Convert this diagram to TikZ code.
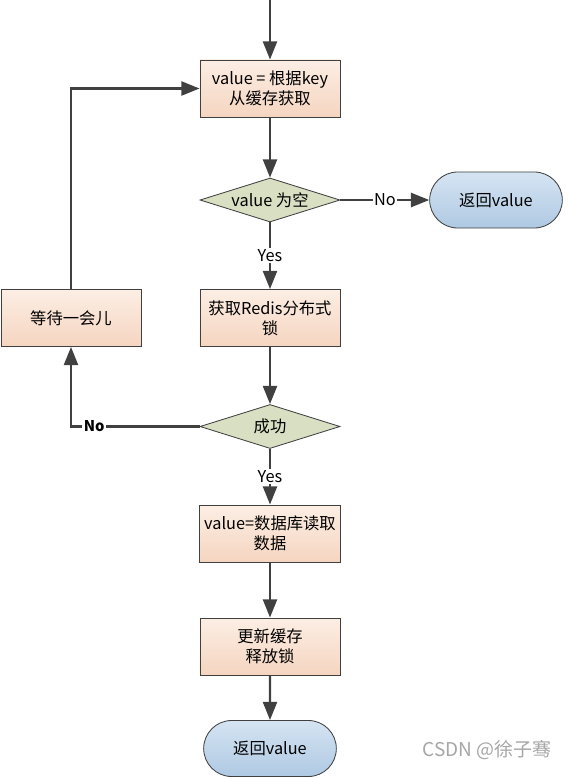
\documentclass[tikz,border=0pt]{standalone}
\usepackage{fontspec}
\newfontfamily\cjk{Noto Sans CJK SC}
\usepackage{tikz}
\usetikzlibrary{shapes.geometric, arrows.meta, positioning, shapes.misc}
\definecolor{linegray}{HTML}{404040}
\definecolor{peachtop}{HTML}{FCEEE4}
\definecolor{peachbot}{HTML}{F5D5C0}
\definecolor{sagefill}{HTML}{D8DFC3}
\definecolor{bluetop}{HTML}{D5E4F2}
\definecolor{bluebot}{HTML}{AFC9E3}
\tikzset{
    procbox/.style={
        rectangle,
        draw=linegray,
        semithick,
        minimum width=3.5cm,
        minimum height=1.425cm,
        top color=peachtop,
        bottom color=peachbot,
        align=center,
        font=\cjk\fontsize{11.6}{14.5}\selectfont
    },
    decision/.style={
        diamond,
        draw=linegray,
        semithick,
        aspect=3.2,
        inner sep=0pt,
        minimum width=3.5cm,
        minimum height=1.1cm,
        fill=sagefill,
        font=\cjk\fontsize{11.6}{14.5}\selectfont
    },
    terminal/.style={
        rounded rectangle,
        draw=linegray,
        semithick,
        minimum width=3.55cm,
        minimum height=1.4cm,
        top color=bluetop,
        bottom color=bluebot,
        font=\cjk\fontsize{11.6}{14.5}\selectfont
    },
    flow/.style={
        draw=linegray,
        line width=1.7pt,
        -{Triangle[length=13pt,width=10pt]}
    },
    flowlabel/.style={
        fill=white,
        inner sep=1pt,
        text=black,
        font=\cjk\fontsize{11.6}{14.5}\selectfont
    }
}

\begin{document}
\begin{tikzpicture}[x=0.025cm, y=-0.025cm]

\useasboundingbox (0,0) rectangle (568,778);

\coordinate (start) at (270,0);
\node[procbox] (getval) at (270,88.5) {value = 根据key\\从缓存获取};
\node[decision] (isnull) at (270,200) {value 为空};
\node[terminal] (ret1) at (496,200) {返回value};
\node[procbox] (lock) at (270,318) {获取Redis分布式\\锁};
\node[procbox] (wait) at (71,318) {等待一会儿};
\node[decision] (ok) at (270,426.5) {成功};
\node[procbox] (readdb) at (270,533.5) {value=数据库读取\\数据};
\node[procbox] (update) at (270,646.5) {更新缓存\\释放锁};
\node[terminal] (ret2) at (270,748.5) {返回value};

\draw[flow] (start) -- (getval);
\draw[flow] (getval) -- (isnull);
\draw[flow] (isnull) -- node[flowlabel] {No} (ret1);
\draw[flow] (isnull) -- node[flowlabel] {Yes} (lock);
\draw[flow] (lock) -- (ok);
\draw[flow] (ok) -| node[flowlabel, pos=0.41, font=\cjk\bfseries\fontsize{10.5}{12}\selectfont] {No} (wait);
\draw[flow] (wait) |- (getval);
\draw[flow] (ok) -- node[flowlabel] {Yes} (readdb);
\draw[flow] (readdb) -- (update);
\draw[flow] (update) -- (ret2);

\node[font=\cjk\fontsize{13.5}{16}\selectfont, text=black!35] (mark) at (487,750) {CSDN @徐子骞};

\end{tikzpicture}
\end{document}
